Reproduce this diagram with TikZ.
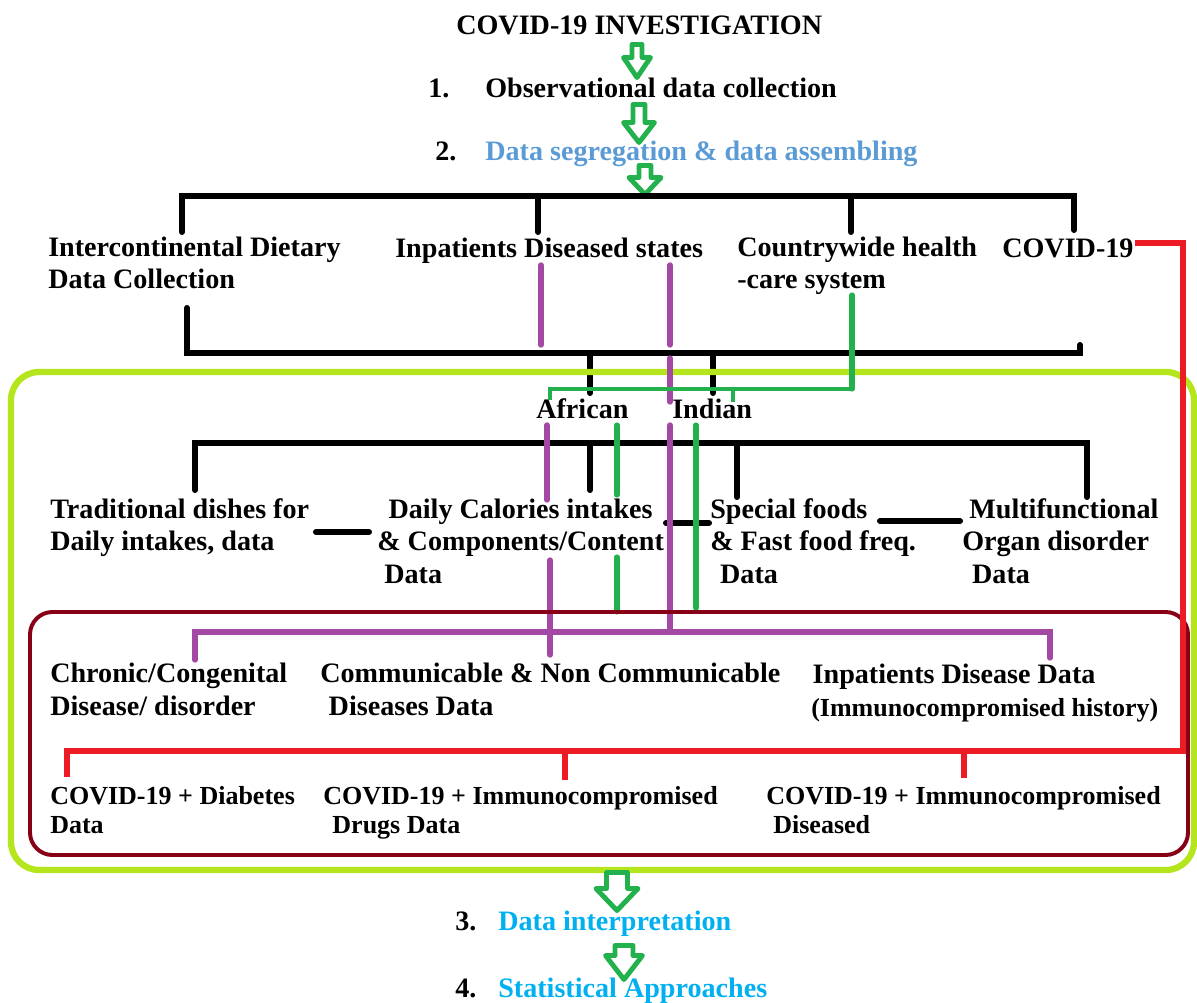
\documentclass[tikz,border=0pt]{standalone}
\usepackage{fontspec}
\setmainfont{Liberation Serif}
\usetikzlibrary{calc}
\definecolor{pgreen}{HTML}{22B14C}
\definecolor{ppurple}{HTML}{A349A4}
\definecolor{pred}{HTML}{ED1C24}
\definecolor{pdarkred}{HTML}{880015}
\definecolor{plime}{HTML}{B5E61D}
\definecolor{segblue}{HTML}{5B9BD5}
\definecolor{skyblue}{HTML}{00B0F0}

\begin{document}
\begin{tikzpicture}[x=0.025cm,y=-0.025cm,
  txt/.style={anchor=base west,inner sep=0pt,align=left,font=\fontsize{20}{23}\selectfont\bfseries},
  small/.style={font=\fontsize{18.5}{20}\selectfont\bfseries},
  blkline/.style={line width=4.3pt,line cap=round},
  purline/.style={ppurple,line width=3.8pt,line cap=round},
  grnline/.style={pgreen,line width=3.6pt,line cap=round},
  thingrn/.style={pgreen,line width=2.2pt},
  redline/.style={pred,line width=4.3pt},
  bigarrow/.style={pgreen,line width=3.5pt,fill=white,line join=round}]
\useasboundingbox (0,0) rectangle (1197,1003);
\def\blockarrow#1#2#3#4#5{\draw[bigarrow,shift={(#1)}] (-#3,0) -- (#3,0) -- (#3,{#2-#5}) -- (#4,{#2-#5}) -- (0,#2) -- (-#4,{#2-#5}) -- (-#3,{#2-#5}) -- cycle;}

% steps
\node[txt] (title) at (456,35) {COVID-19 INVESTIGATION};
\node[txt] (n1) at (428,98) {1.};
\node[txt] (obs) at (485,98) {Observational data collection};
\node[txt] (n2) at (435,161) {2.};
\node[txt,text=segblue] (seg) at (485,161) {Data segregation \& data assembling};
\node[txt] (n3) at (455,930) {3.};
\node[txt,text=skyblue] (interp) at (498,930) {Data interpretation};
\node[txt] (n4) at (455,997) {4.};
\node[txt,text=skyblue] (stat) at (498,997) {Statistical Approaches};

% first level (multi-line nodes sit on their last line)
\node[txt] (diet) at (48,289) {Intercontinental Dietary\\Data Collection};
\node[txt] (inpat) at (395,258) {Inpatients Diseased states};
\node[txt] (health) at (737,289) {Countrywide health\\-care system};
\node[txt] (covid) at (1002,258) {COVID-19};
\node[txt] (afr) at (536,419) {African};
\node[txt] (ind) at (672,419) {Indian};

% dietary data
\node[txt] (trad) at (50,551) {Traditional dishes for\\Daily intakes, data};
\node[txt] (cal) at (377,583) {\hspace*{8pt}Daily Calories intakes\\\& Components/Content\\\hspace*{5pt}Data};
\node[txt] (spec) at (710,583) {Special foods\\\& Fast food freq.\\\hspace*{7pt}Data};
\node[txt] (multi) at (962,583) {\hspace*{5pt}Multifunctional\\Organ disorder\\\hspace*{7pt}Data};

% disease data
\node[txt] (chron) at (50,715) {Chronic/Congenital\\Disease/ disorder};
\node[txt] (comm) at (320,715) {Communicable \& Non Communicable\\\hspace*{6pt}Diseases Data};
\node[txt] (inpdata) at (811,716) {\hspace*{1pt}Inpatients Disease Data\\{\fontsize{18.5}{20}\selectfont(Immunocompromised history)}};

% covid data
\node[txt,small] (diab) at (50,833) {COVID-19 + Diabetes\\Data};
\node[txt,small] (drugs) at (323,833) {COVID-19 + Immunocompromised\\\hspace*{6.5pt}Drugs Data};
\node[txt,small] (disd) at (766,833) {COVID-19 + Immunocompromised\\\hspace*{5pt}Diseased};

% arrows between the steps
\coordinate (ar1) at (637,44.5);
\coordinate (ar2) at (639,104.5);
\coordinate (ar3) at (645,165.5);
\coordinate (ar4) at (617,872.5);
\coordinate (ar5) at (624,945.5);
\blockarrow{ar1}{33}{5}{13.5}{20}
\blockarrow{ar2}{38}{6}{15.5}{20}
\blockarrow{ar3}{29}{6}{16}{17}

% black tree
\coordinate (A) at (182,196);
\coordinate (B) at (1074,196);
\coordinate (C) at (187,353);
\coordinate (D) at (1080,353);
\coordinate (E) at (195,443);
\coordinate (F) at (1087,443);
\draw[blkline] ($(A)+(0,36)$) -- (A) -- (B) -- ++(0,34);
\draw[blkline] (538,196) -- ++(0,36);
\draw[blkline] (851,196) -- ++(0,36);
\draw[blkline] ($(C)+(0,-45)$) -- (C) -- (D) -- ++(0,-8);
\draw[blkline] (590,353) -- ++(0,40);
\draw[blkline] (713,353) -- ++(0,40);
\draw[blkline] ($(E)+(0,47)$) -- (E) -- (F) -- ++(0,54);
\draw[blkline] (590,443) -- ++(0,47);
\draw[blkline] (737,443) -- ++(0,54);
\draw[blkline] (316,532) -- (369,532);
\draw[blkline] (666,523) -- (709,523);
\draw[blkline] (880,521) -- (960,521);

% frames
\draw[plime,line width=4.5pt,rounded corners=20pt] (11,372) rectangle (1194,870);

% purple links
\coordinate (P) at (195,632);
\coordinate (Q) at (1050,632);
\draw[purline] (541,265) -- (541,345);
\draw[purline] (670,265) -- (670,345);
\draw[purline] (670,358) -- (670,402);
\draw[purline] (670,425) -- (670,632);
\draw[purline] (547,425) -- (547,500);
\draw[purline] (550,560) -- (550,655);
\draw[purline] ($(P)+(0,28)$) -- (P) -- (Q) -- ++(0,26);

% green links
\coordinate (G) at (852,389);
\draw[grnline] (852,295) -- (G);
\draw[thingrn] (G) -- (550,389) -- (550,400);
\draw[thingrn] (733,389) -- (733,402);
\draw[grnline] (617,425) -- (617,495);
\draw[grnline] (617,557) -- (617,612);
\draw[grnline] (696,425) -- (696,608);

\draw[pdarkred,line width=2.8pt,rounded corners=16pt] (30,612) rectangle (1188,855);

% red links
\coordinate (R) at (1183,751);
\draw[redline] (1135,243) -- (1183,243) -- (R) -- (67,751) -- (67,777);
\draw[redline] (565,751) -- ++(0,29);
\draw[redline] (964,751) -- ++(0,27);

\blockarrow{ar4}{38}{10.5}{21}{22}
\blockarrow{ar5}{34}{9}{18.5}{24}
\end{tikzpicture}
\end{document}
